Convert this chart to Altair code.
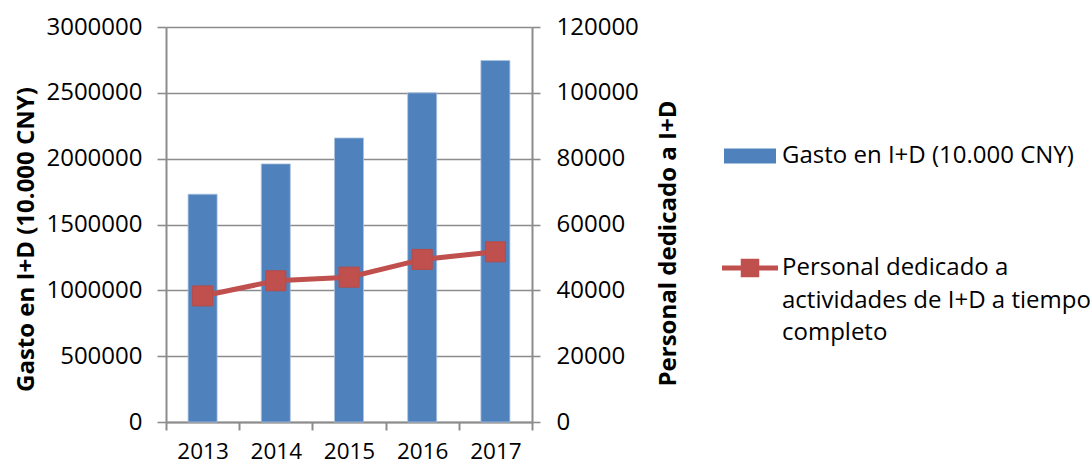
import altair as alt
import pandas as pd

# Yearly R&D figures
years = ["2013", "2014", "2015", "2016", "2017"]
gasto = [1730000, 1960000, 2157000, 2500000, 2745000]        # 10.000 CNY
personal = [38300, 42900, 44000, 49400, 51700]               # full-time staff

serie_gasto = "Gasto en I+D (10.000 CNY)"
serie_personal_lines = ["Personal dedicado a", "actividades de I+D a tiempo", "completo"]
serie_personal = "|".join(serie_personal_lines)

titulo_izq = "Gasto en I+D (10.000 CNY)"
titulo_der = "Personal dedicado a I+D"

gasto_ticks = [0, 500000, 1000000, 1500000, 2000000, 2500000, 3000000]
personal_ticks = [0, 20000, 40000, 60000, 80000, 100000, 120000]

df = pd.DataFrame({
    "year": years,
    "gasto": gasto,
    "personal": personal,
    "s_gasto": [serie_gasto] * len(years),
    "s_personal": [serie_personal] * len(years),
})

FONT = "Open Sans"
FS = 24
GRID = "#8c8c8c"
BLUE = "#4F81BD"
RED = "#C0504D"
W, H = 366, 395

x_enc = alt.X(
    "year:O",
    scale=alt.Scale(paddingInner=0, paddingOuter=0),
    axis=alt.Axis(
        title=None, labelAngle=0, tickBand="extent", tickSize=8,
        labelPadding=10, labelFontSize=22.5, domainColor=GRID, domainWidth=2,
        tickColor=GRID, tickWidth=2, grid=False,
    ),
)

bars = alt.Chart(df).mark_bar(size=29, stroke="#a9c1df", strokeWidth=0.8).encode(
    x=x_enc,
    y=alt.Y(
        "gasto:Q",
        scale=alt.Scale(domain=[0, 3000000], nice=False),
        axis=alt.Axis(
            title=titulo_izq, values=gasto_ticks, format="d",
            tickSize=9, labelPadding=15, grid=True,
            gridColor=GRID, gridWidth=1.6, tickColor=GRID, tickWidth=1.6,
            domainColor=GRID, domainWidth=2,
            titleFontWeight="bold", titleAngle=270,
            titleX=-140, titleY=212, titleAlign="center", titleBaseline="middle",
        ),
    ),
    fill=alt.Fill(
        "s_gasto:N",
        scale=alt.Scale(range=[BLUE]),
        legend=alt.Legend(
            title=None, orient="none", legendX=558, legendY=103,
            symbolType="M-1,-0.288H1V0.288H-1Z", symbolSize=2704,
            symbolStrokeWidth=0, symbolOpacity=1, labelLimit=500,
            labelOffset=6, padding=0,
        ),
    ),
)

y_der = alt.Y(
    "personal:Q",
    scale=alt.Scale(domain=[0, 120000], nice=False),
    axis=alt.Axis(
        orient="right", title=titulo_der, values=personal_ticks, format="d",
        tickSize=8, labelPadding=16, grid=False,
        tickColor=GRID, tickWidth=1.6, domainColor=GRID, domainWidth=2,
        titleFontWeight="bold", titleAngle=270,
        titleX=136, titleY=216, titleAlign="center", titleBaseline="middle",
    ),
)

linea = alt.Chart(df).mark_line(color=RED, strokeWidth=5).encode(
    x=x_enc, y=y_der,
)

marcas = alt.Chart(df).mark_square(size=400, opacity=1, stroke="#b84a47", strokeWidth=1).encode(
    x=x_enc,
    y=y_der,
    fill=alt.Fill(
        "s_personal:N",
        scale=alt.Scale(range=[RED]),
        legend=alt.Legend(
            title=None, orient="none", legendX=556, legendY=213,
            symbolType="M-1,-0.09H1V0.09H-1Z M-0.33,-0.33H0.33V0.33H-0.33Z",
            symbolSize=3136, symbolStrokeWidth=0, symbolOpacity=1,
            labelLimit=500, labelOffset=4, padding=0,
            labelExpr="split(datum.label, '|')",
            labelBaseline="middle",
        ),
    ),
)

chart = (
    alt.layer(bars, alt.layer(linea, marcas))
    .resolve_scale(y="independent", fill="independent")
    .properties(
        width=W, height=H,
        autosize=alt.AutoSizeParams(type="none"),
        padding={"left": 166, "top": 27, "right": 1091 - 166 - W, "bottom": 466 - 27 - H},
    )
    .configure(background="white", style={"guide-label": {"lineHeight": 32.5}})
    .configure_view(stroke=None)
    .configure_axis(
        labelFont=FONT, labelFontSize=FS, labelColor="#000000",
        titleFont=FONT, titleFontSize=FS, titleColor="#000000",
    )
    .configure_legend(
        labelFont=FONT, labelFontSize=FS, labelColor="#000000",
    )
)

chart.save("out.html", embed_options={"renderer": "svg", "actions": False})
